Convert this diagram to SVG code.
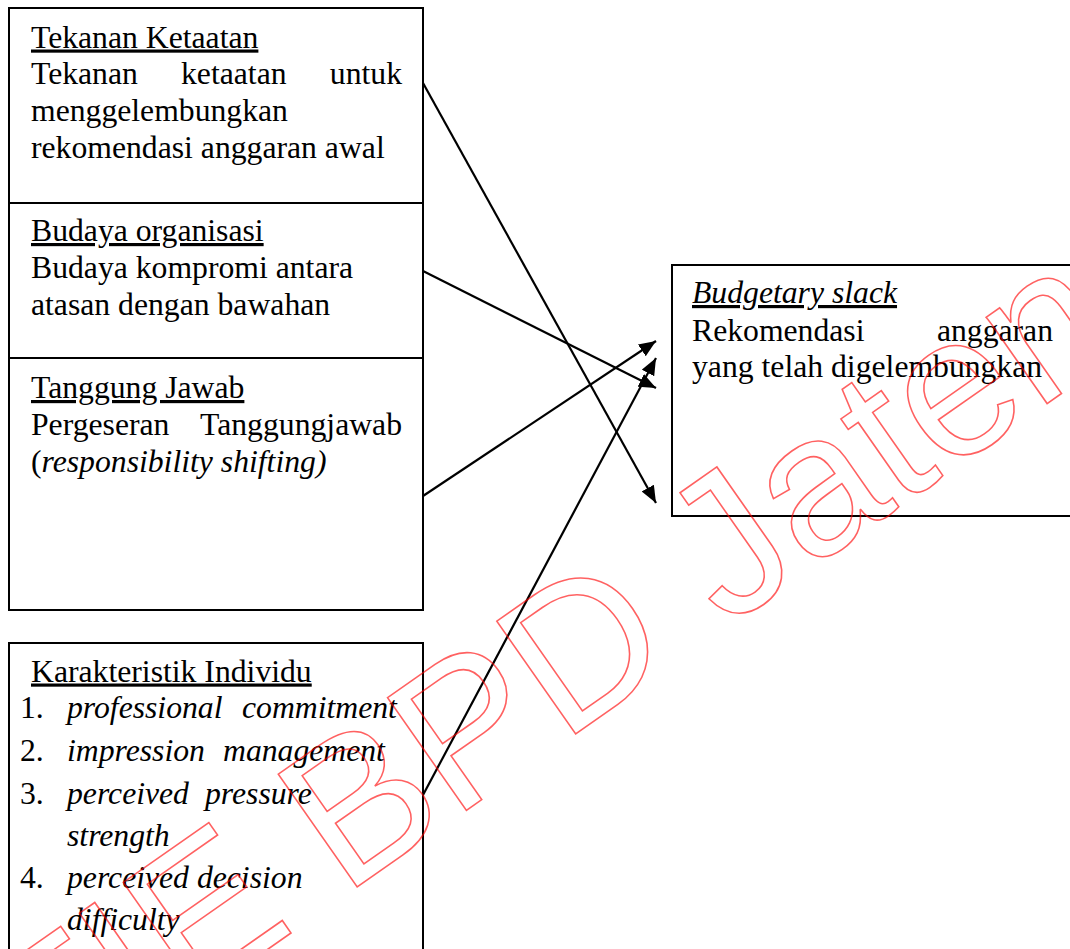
<svg xmlns="http://www.w3.org/2000/svg" width="1070" height="949" viewBox="0 0 1070 949">
<style>
.box{fill:#fff;stroke:#000;stroke-width:2}
.t{font-family:"Liberation Serif","Times New Roman",serif;font-size:31.7px;fill:#000}
.i{font-style:italic}
.u{text-decoration:underline}
.conn{stroke:#000;stroke-width:2.2;fill:none;marker-end:url(#ah)}
.wm{font-family:"Liberation Sans",Arial,sans-serif;font-size:200px;fill:none;stroke:#ff0000;stroke-opacity:0.62;stroke-width:1.6}
</style>
<defs>
<marker id="ah" markerUnits="userSpaceOnUse" markerWidth="18" markerHeight="14" refX="17" refY="7" orient="auto">
<path d="M0,0 L17,7 L0,14 Z" fill="#000"/>
</marker>
</defs>
<rect width="1070" height="949" fill="#fff"/>
<g id="node-tekanan">
<rect class="box" x="9" y="8" width="414" height="195"/>
<text class="t u" x="31" y="47.5">Tekanan Ketaatan</text>
<text class="t" x="31" y="84">Tekanan</text>
<text class="t" x="181" y="84">ketaatan</text>
<text class="t" x="402" y="84" text-anchor="end">untuk</text>
<text class="t" x="31" y="120.5">menggelembungkan</text>
<text class="t" x="31" y="157.5">rekomendasi anggaran awal</text>
</g>
<g id="node-budaya">
<rect class="box" x="9" y="203" width="414" height="155"/>
<text class="t u" x="31" y="241">Budaya organisasi</text>
<text class="t" x="31" y="278">Budaya kompromi antara</text>
<text class="t" x="31" y="315">atasan dengan bawahan</text>
</g>
<g id="node-tanggung">
<rect class="box" x="9" y="358" width="414" height="252"/>
<text class="t u" x="31" y="398">Tanggung Jawab</text>
<text class="t" x="31" y="435">Pergeseran</text>
<text class="t" x="402" y="435" text-anchor="end">Tanggungjawab</text>
<text class="t" x="31" y="472">(<tspan class="i">responsibility shifting)</tspan></text>
</g>
<g id="node-karakteristik">
<rect class="box" x="9" y="643" width="414" height="330"/>
<text class="t u" x="31" y="681.5">Karakteristik Individu</text>
<text class="t" x="20" y="718">1.</text>
<text class="t i" x="67" y="718">professional</text>
<text class="t i" x="242" y="718">commitment</text>
<text class="t" x="20" y="761">2.</text>
<text class="t i" x="67" y="761">impression</text>
<text class="t i" x="223" y="761">management</text>
<text class="t" x="20" y="804">3.</text>
<text class="t i" x="67" y="804">perceived</text>
<text class="t i" x="205" y="804">pressure</text>
<text class="t i" x="67" y="846">strength</text>
<text class="t" x="20" y="888">4.</text>
<text class="t i" x="67" y="888">perceived decision</text>
<text class="t i" x="67" y="930">difficulty</text>
</g>
<g id="node-budgetary">
<rect class="box" x="672" y="265" width="420" height="251"/>
<text class="t i u" x="692" y="303">Budgetary slack</text>
<text class="t" x="692" y="340.5">Rekomendasi</text>
<text class="t" x="1053" y="340.5" text-anchor="end">anggaran</text>
<text class="t" x="692" y="377">yang telah digelembungkan</text>
</g>
<g id="connectors">
<line class="conn" x1="423" y1="83" x2="656" y2="503"/>
<line class="conn" x1="423" y1="271" x2="656" y2="388"/>
<line class="conn" x1="423" y1="496" x2="656" y2="341"/>
<line class="conn" x1="423" y1="795" x2="656" y2="358"/>
</g>
<g id="watermark">
<text class="wm" transform="translate(-66,1183) rotate(-35)">STIE BPD Jateng</text>
</g>
</svg>
